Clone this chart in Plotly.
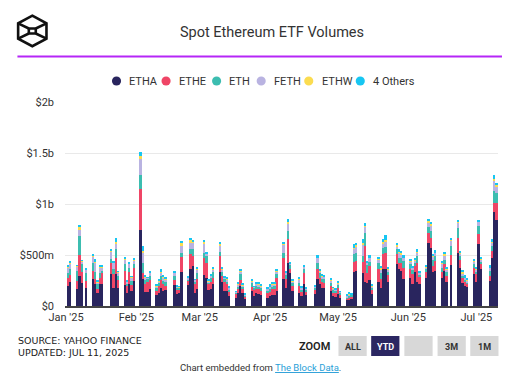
import plotly.graph_objects as go

# ---------------- data ($ millions) ----------------
dates = [
    "2025-01-02", "2025-01-03", "2025-01-06", "2025-01-07", "2025-01-08", "2025-01-10",
    "2025-01-13", "2025-01-14", "2025-01-15", "2025-01-16", "2025-01-17",
    "2025-01-21", "2025-01-22", "2025-01-23", "2025-01-24",
    "2025-01-27", "2025-01-28", "2025-01-29", "2025-01-30", "2025-01-31",
    "2025-02-03", "2025-02-04", "2025-02-05", "2025-02-06", "2025-02-07",
    "2025-02-10", "2025-02-11", "2025-02-12", "2025-02-13", "2025-02-14",
    "2025-02-18", "2025-02-19", "2025-02-20", "2025-02-21",
    "2025-02-24", "2025-02-25", "2025-02-26", "2025-02-27", "2025-02-28",
    "2025-03-03", "2025-03-04", "2025-03-05", "2025-03-06", "2025-03-07",
    "2025-03-10", "2025-03-11", "2025-03-12", "2025-03-13", "2025-03-14",
    "2025-03-17", "2025-03-18", "2025-03-19", "2025-03-20", "2025-03-21",
    "2025-03-24", "2025-03-25", "2025-03-26", "2025-03-27", "2025-03-28",
    "2025-03-31", "2025-04-01", "2025-04-02", "2025-04-03", "2025-04-04",
    "2025-04-07", "2025-04-08", "2025-04-09", "2025-04-10", "2025-04-11",
    "2025-04-14", "2025-04-15", "2025-04-16", "2025-04-17",
    "2025-04-21", "2025-04-22", "2025-04-23", "2025-04-24", "2025-04-25",
    "2025-04-28", "2025-04-29", "2025-04-30", "2025-05-01", "2025-05-02",
    "2025-05-05", "2025-05-06", "2025-05-07", "2025-05-08", "2025-05-09",
    "2025-05-12", "2025-05-13", "2025-05-14", "2025-05-15", "2025-05-16",
    "2025-05-19", "2025-05-20", "2025-05-21", "2025-05-22", "2025-05-23",
    "2025-05-27", "2025-05-28", "2025-05-29", "2025-05-30",
    "2025-06-02", "2025-06-03", "2025-06-04", "2025-06-05", "2025-06-06",
    "2025-06-09", "2025-06-10", "2025-06-11", "2025-06-12", "2025-06-13",
    "2025-06-16", "2025-06-17", "2025-06-18", "2025-06-20",
    "2025-06-23", "2025-06-24", "2025-06-25", "2025-06-26", "2025-06-27",
    "2025-06-30", "2025-07-01", "2025-07-02", "2025-07-03",
    "2025-07-07", "2025-07-08", "2025-07-09", "2025-07-10",
]

ETHA = [196, 235, 163, 294, 228, 173, 268, 219, 130, 219, 212, 310, 173, 310, 180, 206, 124, 212, 147, 245,
        741, 261, 140, 140, 170, 104, 130, 173, 147, 157, 202, 114, 130, 333, 202, 359, 392, 124, 170,
        300, 277, 153, 170, 212, 333, 235, 147, 147, 98, 78, 130, 196, 124, 65, 147, 98, 130, 114, 104, 82,
        98, 110, 105, 147, 268, 173, 424, 326, 147, 130, 98, 212, 104, 114, 268, 212, 173, 173, 147, 98, 91,
        114, 82, 59, 65, 65, 333, 343, 320, 235, 228, 251, 114, 238, 180, 365, 359, 235, 408, 359, 343, 268,
        277, 212, 333, 235, 219, 277, 620, 571, 333, 343, 271, 343, 235, 398, 522, 369, 222, 196, 189, 310,
        235, 604, 359, 245, 473, 923, 848]
ETHE = [75, 68, 82, 202, 105, 72, 75, 49, 40, 58, 108, 114, 137, 163, 75, 137, 72, 121, 55, 124,
        411, 65, 72, 98, 81, 43, 66, 78, 65, 39, 49, 49, 33, 147, 40, 147, 98, 88, 98,
        173, 141, 59, 65, 65, 157, 59, 91, 65, 39, 40, 33, 59, 39, 26, 42, 65, 33, 49, 43, 42,
        39, 55, 60, 130, 199, 88, 229, 33, 49, 66, 49, 114, 43, 49, 91, 65, 62, 55, 49, 32, 39,
        59, 32, 13, 17, 26, 101, 97, 114, 352, 98, 141, 43, 121, 81, 141, 163, 65, 98, 65, 81, 107,
        82, 98, 59, 189, 65, 56, 98, 98, 59, 97, 62, 65, 59, 98, 147, 81, 55, 39, 23, 65,
        75, 98, 49, 49, 65, 88, 163]
ETH = [55, 56, 98, 189, 75, 81, 81, 65, 42, 43, 23, 33, 49, 82, 39, 65, 23, 42, 43, 39,
       137, 92, 49, 30, 43, 32, 32, 43, 33, 39, 43, 16, 16, 42, 22, 55, 71, 33, 58,
       49, 72, 23, 42, 56, 39, 49, 30, 33, 26, 12, 33, 55, 26, 13, 33, 16, 33, 23, 26, 29,
       26, 26, 30, 33, 55, 39, 81, 39, 32, 32, 16, 33, 16, 16, 65, 49, 33, 33, 32, 33, 23,
       29, 16, 16, 16, 17, 72, 82, 56, 124, 72, 38, 22, 65, 65, 65, 59, 43, 49, 49, 49, 66,
       49, 49, 32, 66, 26, 32, 59, 65, 58, 50, 42, 42, 39, 91, 98, 40, 26, 26, 23, 39,
       33, 81, 33, 49, 49, 115, 98]
FETH = [56, 59, 49, 65, 32, 33, 65, 97, 23, 55, 39, 81, 65, 58, 39, 49, 19, 39, 39, 42,
        157, 104, 16, 9, 32, 17, 17, 39, 32, 26, 32, 10, 7, 75, 12, 66, 59, 10, 33,
        91, 22, 10, 23, 26, 68, 16, 9, 16, 16, 9, 16, 33, 13, 10, 23, 10, 23, 26, 23, 17,
        26, 23, 20, 33, 82, 26, 75, 20, 16, 33, 16, 26, 7, 10, 49, 17, 26, 26, 23, 10, 10,
        20, 10, 10, 16, 6, 55, 65, 114, 66, 26, 43, 17, 33, 33, 42, 55, 16, 32, 49, 33, 32,
        33, 16, 26, 39, 16, 17, 45, 56, 39, 32, 43, 49, 26, 59, 49, 26, 17, 16, 16, 27,
        16, 43, 16, 32, 40, 98, 66]
ETHW = [6, 5, 3, 27, 5, 3, 6, 10, 5, 8, 6, 8, 5, 13, 4, 6, 4, 6, 3, 5,
        23, 20, 8, 3, 6, 6, 8, 10, 9, 8, 6, 4, 3, 16, 4, 16, 8, 2, 6,
        10, 6, 3, 3, 5, 12, 5, 5, 5, 5, 3, 8, 5, 6, 3, 3, 2, 3, 5, 5, 5,
        7, 4, 4, 5, 8, 5, 13, 2, 4, 5, 5, 4, 5, 4, 7, 4, 4, 6, 5, 4, 3,
        5, 2, 3, 5, 3, 10, 8, 10, 8, 4, 7, 5, 5, 10, 12, 15, 8, 10, 12, 10, 7,
        7, 5, 7, 8, 5, 5, 10, 10, 5, 7, 7, 9, 5, 7, 8, 7, 9, 7, 5, 7,
        5, 7, 5, 7, 8, 23, 10]
OTHERS = [10, 11, 6, 19, 5, 7, 11, 16, 10, 12, 10, 15, 11, 36, 6, 10, 6, 10, 7, 8,
          42, 45, 15, 4, 11, 10, 15, 16, 17, 15, 11, 9, 7, 23, 7, 26, 18, 4, 10,
          23, 14, 7, 7, 11, 21, 11, 12, 11, 12, 5, 18, 11, 12, 7, 7, 5, 6, 11, 11, 11,
          16, 10, 9, 17, 18, 12, 33, 4, 12, 18, 12, 9, 4, 9, 16, 12, 12, 14, 12, 9, 7,
          11, 5, 7, 11, 7, 39, 25, 39, 24, 12, 16, 11, 11, 23, 28, 41, 18, 23, 27, 22, 16,
          15, 12, 16, 18, 12, 11, 23, 22, 12, 16, 15, 21, 11, 16, 24, 15, 20, 16, 12, 15,
          11, 15, 11, 16, 18, 35, 22]

series_names = ["ETHA", "ETHE", "ETH", "FETH", "ETHW", "4 Others"]
series_values = [ETHA, ETHE, ETH, FETH, ETHW, OTHERS]
series_colors = ["#29255e", "#ef4566", "#3cbdb0", "#b9b3e1", "#fbdc50", "#17c6f2"]

y_tickvals = [0, 500, 1000, 1500, 2000]
y_ticktext = ["$0", "$500m", "$1b", "$1.5b", "$2b"]
x_tickvals = ["2025-01-01", "2025-02-01", "2025-03-01", "2025-04-01",
              "2025-05-01", "2025-06-01", "2025-07-01"]
x_ticktext = ["Jan '25", "Feb '25", "Mar '25", "Apr '25", "May '25", "Jun '25", "Jul '25"]

title_text = "Spot Ethereum ETF Volumes"
source_text = "SOURCE: YAHOO FINANCE"
updated_text = "UPDATED: JUL 11, 2025"
zoom_buttons = ["ALL", "YTD", "", "3M", "1M"]

# ---------------- layout geometry ----------------
# The page body has an 8px margin, so the figure is drawn 8px in from the
# window's top-left; all positions below are given in window pixels.
OFF = 8
WIN_W, WIN_H = 523, 383
W, H = WIN_W - OFF, WIN_H - OFF
PLOT_L, PLOT_R, PLOT_T, PLOT_B = 61, 498, 102, 306   # window pixels
L, T = PLOT_L - OFF, PLOT_T - OFF
PW, PH = PLOT_R - PLOT_L, PLOT_B - PLOT_T
R, B = W - L - PW, H - T - PH


def px(x):
    return (x - PLOT_L) / PW


def py(y):
    return (PLOT_B - y) / PH


FONT = "Roboto, Inter, sans-serif"
TXT = "#333333"

fig = go.Figure()
DAY_MS = 86400000
for name, vals, col in zip(series_names, series_values, series_colors):
    fig.add_trace(go.Bar(
        x=dates, y=vals, name=name, marker_color=col, marker_line_width=0,
        width=0.8 * DAY_MS, showlegend=False,
    ))

shapes = []
annotations = []

# title
annotations.append(dict(text=title_text, x=px(269.5), y=py(32), xref="paper", yref="paper",
                        xanchor="center", yanchor="middle", showarrow=False,
                        font=dict(family="Roboto, Inter, sans-serif", size=14.5, color=TXT)))

# logo (hexagon cube)
def path(points, close=True):
    s = "M " + " L ".join(f"{px(a):.5f},{py(b):.5f}" for a, b in points)
    return s + (" Z" if close else "")

hexagon = [(28, 15.7), (42.3, 23.3), (42.3, 38.6), (28, 46.2), (13.7, 38.6), (13.7, 23.3)]
shapes.append(dict(type="path", xref="paper", yref="paper", path=path(hexagon),
                   line=dict(color="#111111", width=2.6)))
inner = [
    [(13.7, 23.3), (24.5, 28.5)], [(42.3, 23.3), (31.5, 28.5)],
    [(13.7, 38.6), (24.5, 33.5)], [(42.3, 38.6), (31.5, 33.5)],
]
for seg in inner:
    shapes.append(dict(type="path", xref="paper", yref="paper", path=path(seg, close=False),
                       line=dict(color="#111111", width=2.6)))
shapes.append(dict(type="path", xref="paper", yref="paper",
                   path=path([(24.5, 28.5), (31.5, 28.5), (31.5, 33.5), (24.5, 33.5)]),
                   line=dict(color="#111111", width=2.6)))

# purple separator
shapes.append(dict(type="line", xref="paper", yref="paper", x0=px(13), x1=px(502),
                   y0=py(56.5), y1=py(56.5), line=dict(color="#b526f7", width=2)))

# manual legend
legend_x = [113, 163, 214, 259, 307, 359]
for lx, name, col in zip(legend_x, series_names, series_colors):
    shapes.append(dict(type="circle", xref="paper", yref="paper",
                       x0=px(lx - 4.6), x1=px(lx + 4.6), y0=py(81 + 4.6), y1=py(81 - 4.6),
                       fillcolor=col, line=dict(width=0)))
    annotations.append(dict(text=name, x=px(lx + 11), y=py(81.5), xref="paper", yref="paper",
                            xanchor="left", yanchor="middle", showarrow=False,
                            font=dict(family=FONT, size=11, color=TXT)))

# source lines
annotations.append(dict(text=source_text + "<br>" + updated_text, x=px(12), y=py(346.5),
                        xref="paper", yref="paper", xanchor="left", yanchor="middle",
                        align="left", showarrow=False,
                        font=dict(family="DejaVu Sans, sans-serif", size=9.5, color="#222222")))

# zoom buttons
annotations.append(dict(text="ZOOM", x=px(330), y=py(346), xref="paper", yref="paper",
                        xanchor="right", yanchor="middle", showarrow=False,
                        font=dict(family=FONT, size=11, color="#222222", weight=600)))
btn_x = [337, 370, 403.5, 437, 470]
for bx, lab in zip(btn_x, zoom_buttons):
    active = lab == "YTD"
    shapes.append(dict(type="rect", xref="paper", yref="paper",
                       x0=px(bx), x1=px(bx + 28.5), y0=py(356), y1=py(336),
                       fillcolor="#2b2762" if active else "#d8d8d8", line=dict(width=0)))
    if lab:
        annotations.append(dict(text=lab, x=px(bx + 14.25), y=py(346.5), xref="paper", yref="paper",
                                xanchor="center", yanchor="middle", showarrow=False,
                                font=dict(family=FONT, size=9, weight=700,
                                          color="#ffffff" if active else "#333333")))

# embed credit
annotations.append(dict(
    text="Chart embedded from <span style='color:#2a9fd8'><u>The Block Data</u></span>.",
    x=px(258), y=py(367), xref="paper", yref="paper", xanchor="center", yanchor="middle",
    showarrow=False, font=dict(family=FONT, size=9.5, color=TXT)))

fig.update_layout(
    width=W, height=H,
    margin=dict(l=L, r=R, t=T, b=B, pad=0),
    barmode="stack",
    paper_bgcolor="white", plot_bgcolor="white",
    showlegend=False,
    shapes=shapes, annotations=annotations,
    font=dict(family=FONT, color=TXT),
    xaxis=dict(
        type="date", range=["2024-12-31 13:00", "2025-07-10 13:00"],
        tickmode="array", tickvals=x_tickvals, ticktext=x_ticktext,
        showgrid=False, zeroline=False, showline=True, linecolor="#444444", linewidth=1.5,
        ticks="", tickfont=dict(family=FONT, size=11, color=TXT), fixedrange=True,
    ),
    yaxis=dict(
        range=[0, 2000], tickmode="array", tickvals=y_tickvals, ticktext=y_ticktext,
        showgrid=True, gridcolor="#e9e9e9", gridwidth=1, zeroline=False, showline=False,
        ticks="", ticklabelstandoff=10, tickfont=dict(family=FONT, size=11, color=TXT),
        fixedrange=True,
    ),
)

fig.write_html("out.html")
